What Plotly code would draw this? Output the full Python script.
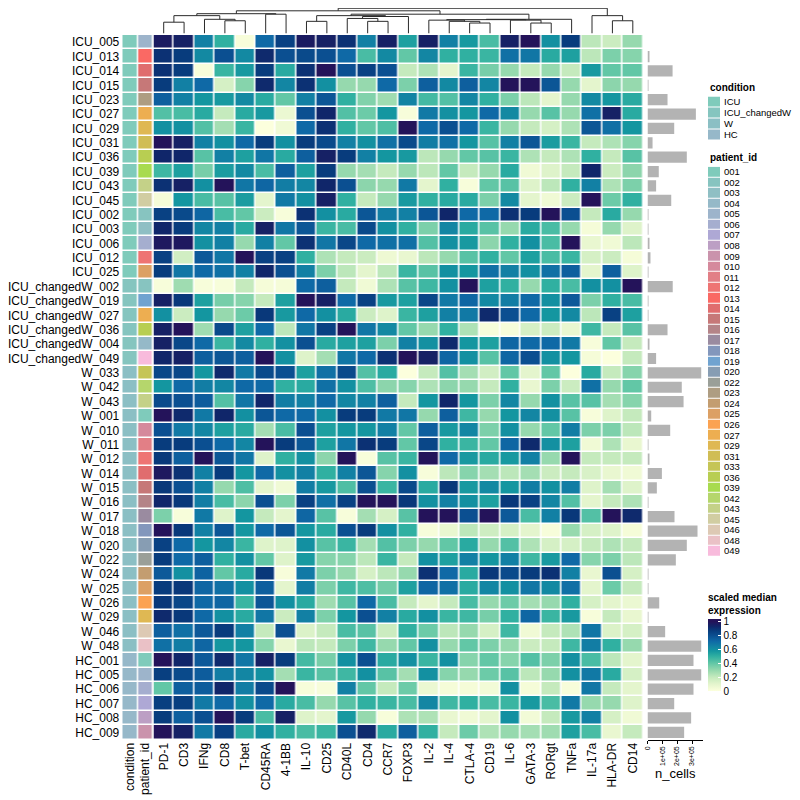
import plotly.graph_objects as go

# ---------------- data ----------------
markers = ["PD-1", "CD3", "IFNg", "CD8", "T-bet", "CD45RA", "4-1BB", "IL-10", "CD25", "CD40L",
           "CD4", "CCR7", "FOXP3", "IL-2", "IL-4", "CTLA-4", "CD19", "IL-6", "GATA-3", "RORgt",
           "TNFa", "IL-17a", "HLA-DR", "CD14"]

samples = ["ICU_005", "ICU_013", "ICU_014", "ICU_015", "ICU_023", "ICU_027", "ICU_029", "ICU_031",
           "ICU_036", "ICU_039", "ICU_043", "ICU_045", "ICU_002", "ICU_003", "ICU_006", "ICU_012",
           "ICU_025", "ICU_changedW_002", "ICU_changedW_019", "ICU_changedW_027",
           "ICU_changedW_036", "ICU_changedW_004", "ICU_changedW_049", "W_033", "W_042", "W_043",
           "W_001", "W_010", "W_011", "W_012", "W_014", "W_015", "W_016", "W_017", "W_018",
           "W_020", "W_022", "W_024", "W_025", "W_026", "W_029", "W_046", "W_048", "HC_001",
           "HC_005", "HC_006", "HC_007", "HC_008", "HC_009"]

expr = [
    [0.97, 0.95, 0.65, 0.5, 0.02, 0.72, 0.85, 0.97, 0.95, 0.9, 0.65, 0.95, 0.55, 0.95, 0.65, 0.57, 0.45, 0.95, 1.0, 0.6, 0.87, 0.22, 0.18, 0.3],
    [0.9, 0.87, 0.62, 0.8, 0.62, 0.92, 0.8, 0.82, 0.8, 0.72, 0.45, 0.62, 0.4, 0.63, 0.5, 0.5, 0.48, 0.7, 0.68, 0.52, 0.55, 0.22, 0.35, 0.33],
    [0.9, 0.87, 0.02, 0.48, 0.57, 0.87, 0.52, 0.9, 1.0, 0.8, 0.85, 0.8, 0.2, 0.25, 0.1, 0.48, 0.36, 0.3, 0.2, 0.3, 0.2, 0.57, 0.4, 0.4],
    [0.87, 0.65, 0.72, 0.15, 0.33, 0.92, 0.63, 0.9, 0.6, 0.3, 0.3, 0.72, 0.35, 0.75, 0.62, 0.75, 0.63, 1.0, 1.0, 0.78, 0.3, 0.1, 0.32, 0.3],
    [0.75, 0.65, 0.58, 0.57, 0.62, 0.52, 0.4, 0.65, 0.78, 0.5, 0.34, 0.28, 0.64, 0.46, 0.43, 0.63, 0.5, 0.35, 0.22, 0.1, 0.3, 0.62, 0.58, 0.52],
    [0.43, 0.45, 0.52, 0.2, 0.52, 0.57, 0.07, 0.8, 0.93, 0.43, 0.38, 0.58, 0.02, 0.67, 0.6, 0.58, 0.72, 0.62, 0.3, 0.42, 0.3, 0.7, 0.95, 0.52],
    [0.6, 0.6, 0.43, 0.27, 0.48, 0.0, 0.05, 0.72, 0.9, 0.5, 0.4, 0.44, 1.0, 0.72, 0.8, 0.72, 0.48, 0.3, 0.2, 0.15, 0.25, 0.78, 0.7, 0.58],
    [1.0, 0.95, 0.65, 0.6, 0.72, 0.87, 0.6, 0.87, 0.82, 0.65, 0.6, 0.7, 0.82, 0.66, 0.7, 0.58, 0.42, 0.65, 0.78, 0.56, 0.48, 0.2, 0.25, 0.33],
    [0.93, 0.93, 0.42, 0.65, 0.55, 0.68, 0.52, 0.75, 0.95, 0.87, 0.65, 0.58, 0.57, 0.22, 0.3, 0.4, 0.42, 0.48, 0.25, 0.2, 0.25, 0.5, 0.2, 0.42],
    [0.47, 0.55, 0.36, 0.56, 0.62, 0.45, 0.75, 0.55, 0.87, 0.3, 0.27, 0.2, 0.3, 0.22, 0.4, 0.2, 0.3, 0.52, 0.05, 0.12, 0.2, 0.93, 0.18, 0.32],
    [0.9, 0.95, 0.6, 1.0, 0.68, 0.73, 0.66, 0.63, 0.93, 0.8, 0.32, 0.3, 0.67, 0.1, 0.5, 0.02, 0.4, 0.42, 0.12, 0.22, 0.5, 0.65, 0.25, 0.35],
    [0.03, 0.58, 0.45, 0.42, 0.56, 0.1, 0.67, 0.6, 0.95, 0.5, 0.2, 0.3, 0.57, 0.5, 0.52, 0.52, 0.35, 0.62, 0.1, 0.05, 0.18, 1.0, 0.38, 0.5],
    [0.85, 0.82, 0.73, 0.45, 0.4, 0.18, 0.02, 0.9, 0.6, 0.52, 0.78, 0.66, 0.65, 0.78, 0.93, 0.72, 0.72, 0.9, 0.87, 1.0, 0.8, 0.2, 0.52, 0.3],
    [0.93, 0.87, 0.63, 0.65, 0.52, 0.95, 0.68, 0.78, 0.48, 0.45, 0.82, 0.6, 0.5, 0.35, 0.63, 0.52, 0.42, 0.3, 0.52, 0.45, 0.3, 0.03, 0.3, 0.12],
    [0.98, 0.98, 0.6, 0.65, 0.3, 0.65, 0.4, 0.9, 0.68, 0.83, 0.72, 0.7, 0.7, 0.43, 0.6, 0.57, 0.32, 0.5, 0.6, 0.45, 1.0, 0.08, 0.05, 0.22],
    [0.85, 0.16, 0.77, 0.68, 1.0, 0.85, 0.85, 0.5, 0.25, 0.2, 0.18, 0.06, 0.08, 0.22, 0.3, 0.42, 0.5, 0.4, 0.55, 0.45, 0.48, 0.15, 0.18, 0.03],
    [0.87, 0.68, 0.72, 0.7, 0.65, 0.93, 0.8, 0.65, 0.35, 0.22, 0.1, 0.22, 0.48, 0.42, 0.6, 0.58, 0.7, 0.65, 0.6, 0.7, 0.75, 0.1, 0.75, 0.12],
    [0.02, 0.28, 0.02, 0.02, 0.2, 0.03, 0.03, 0.72, 0.75, 0.2, 0.05, 0.25, 0.42, 0.47, 0.6, 1.0, 0.55, 0.5, 0.3, 0.5, 0.45, 0.6, 0.6, 1.0],
    [0.95, 0.88, 0.55, 0.36, 0.33, 0.2, 0.55, 1.0, 0.95, 0.72, 0.85, 0.57, 0.55, 0.83, 0.67, 0.73, 0.62, 0.66, 0.72, 0.6, 0.77, 0.35, 0.5, 0.45],
    [0.6, 0.18, 0.58, 0.3, 0.38, 0.88, 0.57, 0.72, 0.6, 0.52, 0.18, 0.12, 0.48, 0.55, 0.65, 0.67, 0.92, 0.8, 0.72, 0.58, 0.62, 0.22, 0.85, 0.55],
    [0.95, 1.0, 0.28, 0.82, 0.55, 0.72, 0.22, 0.68, 0.85, 1.0, 0.68, 0.62, 0.4, 0.3, 0.5, 0.25, 0.02, 0.02, 0.15, 0.18, 0.08, 0.47, 0.2, 0.42],
    [0.95, 0.83, 0.72, 0.48, 0.62, 0.5, 0.6, 0.8, 0.52, 0.55, 0.55, 0.35, 0.65, 0.6, 0.92, 0.58, 0.55, 0.73, 0.72, 0.72, 0.67, 0.02, 0.4, 0.2],
    [0.93, 0.95, 0.75, 0.78, 0.75, 1.0, 0.6, 0.12, 0.27, 0.68, 0.72, 0.9, 1.0, 0.95, 0.73, 0.6, 0.42, 0.73, 0.8, 0.6, 0.58, 0.03, 0.0, 0.2],
    [0.83, 0.83, 0.58, 0.92, 0.67, 0.82, 0.8, 0.55, 0.7, 0.82, 0.43, 0.52, 0.0, 0.2, 0.43, 0.27, 0.16, 0.4, 0.1, 0.4, 0.0, 0.52, 0.2, 0.33],
    [0.58, 0.72, 0.66, 0.63, 0.72, 0.72, 0.5, 0.52, 0.7, 0.6, 0.44, 0.32, 0.33, 0.25, 0.32, 0.3, 0.2, 0.5, 0.08, 0.35, 0.18, 0.7, 0.3, 0.4],
    [0.82, 0.8, 0.76, 0.43, 0.68, 0.93, 0.66, 0.65, 0.72, 0.63, 0.65, 0.75, 0.2, 0.58, 0.93, 0.58, 0.35, 0.63, 0.3, 0.6, 0.42, 0.42, 0.27, 0.33],
    [1.0, 0.92, 0.67, 0.93, 0.6, 0.78, 0.72, 0.72, 0.6, 0.87, 0.87, 0.67, 0.68, 0.3, 0.75, 0.47, 0.3, 0.58, 0.63, 0.6, 0.42, 0.02, 0.12, 0.2],
    [0.8, 0.67, 0.63, 0.55, 0.52, 0.27, 0.45, 0.8, 0.55, 0.58, 0.58, 0.65, 0.4, 0.75, 0.57, 0.63, 0.35, 0.6, 0.3, 0.4, 0.66, 0.35, 0.35, 0.22],
    [0.87, 0.87, 0.8, 0.72, 0.63, 1.0, 0.87, 0.78, 0.55, 0.68, 0.9, 0.87, 0.4, 0.83, 0.5, 0.48, 0.4, 0.73, 0.92, 0.6, 0.55, 0.05, 0.25, 0.08],
    [0.88, 0.75, 1.0, 0.78, 0.68, 0.12, 0.5, 0.6, 0.32, 1.0, 0.02, 0.42, 0.48, 1.0, 0.72, 0.57, 0.52, 0.57, 0.65, 0.3, 1.0, 0.2, 0.2, 0.2],
    [0.98, 0.9, 0.65, 0.87, 0.58, 0.72, 0.6, 0.65, 0.5, 0.65, 0.78, 0.33, 0.6, 0.02, 0.22, 0.33, 0.27, 0.22, 0.27, 0.18, 0.2, 0.14, 0.08, 0.05],
    [0.88, 0.8, 0.65, 0.3, 0.44, 0.1, 0.05, 0.66, 0.57, 0.44, 0.8, 0.48, 0.82, 0.52, 0.88, 0.57, 0.62, 0.58, 0.66, 0.6, 0.66, 0.12, 0.27, 0.12],
    [0.93, 0.88, 0.66, 0.45, 0.32, 0.8, 0.35, 0.85, 0.7, 0.85, 1.0, 1.0, 0.88, 0.6, 0.65, 0.6, 0.55, 0.88, 0.85, 0.63, 0.43, 0.1, 0.2, 0.25],
    [0.35, 0.02, 0.67, 0.12, 0.58, 0.2, 0.1, 0.73, 0.42, 0.02, 0.27, 0.15, 0.42, 1.0, 1.0, 0.8, 1.0, 0.77, 0.45, 0.65, 0.88, 0.43, 1.0, 0.92],
    [1.0, 0.88, 0.65, 0.78, 0.58, 0.72, 0.78, 0.58, 0.52, 0.8, 0.87, 0.6, 0.5, 0.02, 0.08, 0.22, 0.17, 0.15, 0.1, 0.02, 0.3, 0.15, 0.12, 0.03],
    [0.85, 0.72, 0.58, 0.63, 0.48, 0.12, 0.12, 0.6, 0.42, 0.48, 0.27, 0.43, 0.35, 0.3, 0.4, 0.52, 0.3, 0.43, 0.25, 0.15, 0.15, 0.2, 0.25, 0.2],
    [0.87, 0.72, 0.75, 0.5, 0.6, 0.4, 0.12, 0.57, 0.33, 0.33, 0.22, 0.48, 0.2, 0.6, 0.55, 0.65, 0.58, 0.65, 0.47, 0.57, 0.72, 0.33, 0.35, 0.22],
    [0.77, 0.6, 0.74, 0.4, 0.52, 0.88, 0.02, 0.67, 0.35, 0.3, 0.15, 0.22, 0.3, 0.9, 0.72, 0.52, 0.88, 0.82, 0.87, 0.9, 0.65, 0.08, 0.8, 0.15],
    [0.87, 0.88, 0.73, 0.7, 0.6, 0.75, 0.1, 0.66, 0.35, 0.47, 0.44, 0.37, 0.55, 0.73, 0.7, 0.52, 0.63, 0.6, 0.68, 0.62, 0.7, 0.1, 0.38, 0.2],
    [0.88, 0.83, 0.72, 0.73, 0.48, 0.78, 0.6, 0.52, 0.28, 0.42, 0.72, 0.45, 0.2, 0.1, 0.2, 0.45, 0.3, 0.38, 0.27, 0.3, 0.5, 0.15, 0.1, 0.07],
    [0.92, 0.88, 0.72, 0.6, 0.52, 0.68, 0.18, 0.65, 0.35, 0.58, 0.8, 0.65, 0.52, 0.6, 0.48, 0.47, 0.36, 0.5, 0.73, 0.48, 0.57, 0.02, 0.2, 0.08],
    [0.75, 0.7, 0.77, 0.87, 0.65, 0.2, 0.8, 0.13, 0.2, 0.45, 0.42, 0.18, 0.5, 0.38, 0.22, 0.3, 0.15, 0.47, 0.05, 0.2, 0.25, 0.68, 0.13, 0.15],
    [0.7, 0.66, 0.73, 0.58, 0.58, 0.33, 0.08, 0.22, 0.2, 0.35, 0.47, 0.3, 0.4, 0.6, 0.3, 0.4, 0.35, 0.3, 0.18, 0.2, 0.47, 0.66, 0.5, 0.3],
    [1.0, 0.93, 0.77, 0.92, 0.68, 0.95, 0.87, 0.46, 0.36, 0.6, 0.8, 0.52, 0.6, 0.48, 0.6, 0.33, 0.4, 0.33, 0.43, 0.35, 0.6, 0.45, 0.22, 0.1],
    [0.86, 0.82, 0.76, 0.66, 0.63, 0.6, 0.27, 0.48, 0.42, 0.47, 0.6, 0.42, 0.27, 0.6, 0.33, 0.3, 0.38, 0.42, 0.22, 0.3, 0.6, 0.67, 0.52, 0.15],
    [0.4, 0.75, 0.76, 0.93, 0.66, 0.82, 1.0, 0.02, 0.02, 0.65, 0.4, 0.2, 0.38, 0.07, 0.03, 0.03, 0.04, 0.6, 0.03, 0.2, 0.02, 0.68, 0.2, 0.1],
    [0.86, 0.86, 0.67, 0.72, 0.6, 0.72, 0.52, 0.45, 0.3, 0.42, 0.5, 0.48, 0.45, 0.63, 0.47, 0.5, 0.45, 0.48, 0.57, 0.45, 0.67, 0.3, 0.3, 0.12],
    [0.87, 0.75, 0.8, 1.0, 0.87, 0.45, 0.95, 0.12, 0.1, 0.57, 0.3, 0.02, 0.25, 0.25, 0.08, 0.05, 0.1, 0.6, 0.04, 0.2, 0.57, 0.65, 0.15, 0.05],
    [1.0, 0.95, 0.67, 0.85, 0.52, 0.6, 0.5, 0.45, 0.48, 0.8, 0.92, 0.52, 0.75, 0.5, 0.2, 0.38, 0.25, 0.3, 0.27, 0.28, 0.55, 0.45, 0.08, 0.2],
]

n_cells = [0, 9000, 169000, 6000, 135000, 326000, 180000, 34000, 265000, 76000, 58000, 160000,
           1000, 5000, 7000, 20000, 3000, 170000, 5000, 1000, 135000, 13000, 58000, 362000,
           231000, 243000, 25000, 153000, 5000, 11000, 97000, 63000, 4000, 182000, 337000,
           265000, 191000, 1000, 5000, 79000, 3000, 119000, 362000, 310000, 362000, 310000,
           180000, 294000, 247000]

conditions = ["ICU", "ICU_changedW", "W", "HC"]
condition_colors = ["#7FCBBB", "#85C5BF", "#8BBFC4", "#96B8C9"]

patient_ids = ["001", "002", "003", "004", "005", "006", "007", "008", "009", "010", "011", "012",
               "013", "014", "015", "016", "017", "018", "019", "020", "022", "023", "024", "025",
               "026", "027", "029", "031", "033", "036", "039", "042", "043", "045", "046", "048",
               "049"]
patient_colors = ["#7FCBBB", "#87C4C0", "#8FBFC4", "#95B9C8", "#9DB4CB", "#A5AECF", "#AEA8D5",
                  "#BC9FC4", "#CA93AC", "#D5899C", "#E27F86", "#EE7473", "#FA6964", "#E06D6E",
                  "#C67878", "#B48488", "#9A8BA0", "#8397BC", "#70A3D0", "#879DB3", "#9A9F98",
                  "#AE9D82", "#C39D70", "#DCA064", "#FBA252", "#EDAE51", "#DFB853", "#D0BD55",
                  "#C5C556", "#B8CE52", "#A8DB4F", "#B5D66C", "#C4D188", "#D1CDA2", "#DDC9B4",
                  "#EAC1C6", "#F8BBDC"]

# colour stops given on the 0..1 value scale
expr_stops = [
    [0.00, "#FCFFDD"], [0.10, "#E4F5CD"], [0.20, "#C5EABD"], [0.30, "#96D9AE"],
    [0.40, "#62C7A6"], [0.50, "#30B0A1"], [0.58, "#1496A0"], [0.65, "#1280A4"],
    [0.72, "#0F69A6"], [0.80, "#0B4F91"], [0.87, "#083C7D"], [0.93, "#10266A"],
    [1.00, "#24135A"],
]

# column dendrogram: (left, right, height); "mK" refers to the K-th merge
dendro_merges = [
    ("PD-1", "CD3", 13.3), ("CD8", "T-bet", 15.0), ("IFNg", "m1", 16.7), ("m0", "m2", 21.0),
    ("CD45RA", "4-1BB", 22.7), ("m3", "m4", 23.3), ("IL-10", "CD25", 14.3), ("CD4", "CCR7", 14.3),
    ("CD40L", "m7", 17.7), ("m8", "FOXP3", 20.0), ("m6", "m9", 21.0), ("CTLA-4", "CD19", 12.3),
    ("IL-4", "m11", 14.3), ("IL-2", "m12", 15.7), ("GATA-3", "RORgt", 12.3), ("IL-6", "m14", 15.7),
    ("m13", "m15", 16.3), ("m16", "TNFa", 16.7), ("m10", "m17", 22.7), ("m5", "m18", 26.7),
    ("HLA-DR", "CD14", 15.0), ("IL-17a", "m20", 21.0), ("m19", "m21", 29.7),
]

# ---------------- layout helpers ----------------
W = H = 800.0
OFF = 8.0  # page body margin of the html page


def px_x(a, b):
    return [max(0.0, (a - OFF) / W), min(1.0, (b - OFF) / W)]


def px_y(top, bottom):
    return [max(0.0, 1 - (bottom - OFF) / H), min(1.0, 1 - (top - OFF) / H)]


def pos_x(a):
    return (a - OFF) / W


def pos_y(a):
    return 1 - (a - OFF) / H


FONT = "Liberation Sans, Arial, Helvetica, sans-serif"

# ---------------- derived ----------------
ZMAX = 1.04  # colour bar extends slightly past 1, as in the legend of the original
expr_colorscale = [[p / ZMAX, c] for p, c in expr_stops] + [[1.0, expr_stops[-1][1]]]

all_colors = condition_colors + patient_colors
ncol = len(all_colors)
cat_scale = []
for i, c in enumerate(all_colors):
    cat_scale.append([i / ncol, c])
    cat_scale.append([(i + 1) / ncol, c])

sample_cond = [s.rsplit("_", 1)[0] for s in samples]
sample_pid = [s.rsplit("_", 1)[1] for s in samples]
anno_z = [[conditions.index(c), len(conditions) + patient_ids.index(p)]
          for c, p in zip(sample_cond, sample_pid)]

pos = {m: i for i, m in enumerate(markers)}
hgt = {m: 0.0 for m in markers}
dx, dy = [], []
for k, (a, b, h) in enumerate(dendro_merges):
    xa, xb = pos[a], pos[b]
    dx += [xa, xa, xb, xb, None]
    dy += [hgt[a], h, h, hgt[b], None]
    pos["m%d" % k] = (xa + xb) / 2
    hgt["m%d" % k] = h

HM_DOM = px_y(35.0, 739.5)
HM_X = px_x(153.5, 643)

fig = go.Figure()

# main heatmap
fig.add_trace(go.Heatmap(
    z=expr, x=markers, y=samples, colorscale=expr_colorscale, zmin=0, zmax=ZMAX,
    xgap=1.5, ygap=1.5, xaxis="x", yaxis="y",
    colorbar=dict(
        x=pos_x(708), xanchor="left", y=pos_y(590), yanchor="top",
        len=101, lenmode="pixels", thickness=13, thicknessmode="pixels",
        xpad=0, ypad=0, outlinewidth=0,
        tickvals=[0, 0.2, 0.4, 0.6, 0.8, 1], ticktext=["0", "0.2", "0.4", "0.6", "0.8", "1"],
        ticks="inside", ticklen=3, tickcolor="white",
        tickfont=dict(size=10, family=FONT, color="black"),
        title=dict(text="<b>scaled median<br>expression</b>", side="top",
                   font=dict(size=10, family=FONT, color="black")),
    ),
))

# annotation columns
fig.add_trace(go.Heatmap(
    z=anno_z, x=["condition", "patient_id"], y=samples, colorscale=cat_scale,
    zmin=-0.5, zmax=ncol - 0.5, showscale=False, xgap=1.5, ygap=1.5,
    xaxis="x2", yaxis="y2",
))

# n_cells bars
fig.add_trace(go.Bar(
    x=n_cells, y=samples, orientation="h", marker=dict(color="#B3B3B3", line=dict(width=0)),
    width=0.78, xaxis="x3", yaxis="y3", showlegend=False,
))

# dendrogram
fig.add_trace(go.Scatter(
    x=dx, y=dy, mode="lines", line=dict(color="#2b2b2b", width=1),
    xaxis="x4", yaxis="y4", showlegend=False, hoverinfo="skip",
))

# legend: condition
fig.add_trace(go.Heatmap(
    z=[[i] for i in range(len(conditions))], x=["c"], y=conditions, colorscale=cat_scale,
    zmin=-0.5, zmax=ncol - 0.5, showscale=False, ygap=1, xaxis="x5", yaxis="y5",
))
# legend: patient_id
fig.add_trace(go.Heatmap(
    z=[[len(conditions) + i] for i in range(len(patient_ids))], x=["p"], y=patient_ids,
    colorscale=cat_scale, zmin=-0.5, zmax=ncol - 0.5, showscale=False, ygap=1,
    xaxis="x6", yaxis="y6",
))

hidden = dict(showgrid=False, zeroline=False, showticklabels=False, ticks="", showline=False)
tick12 = dict(size=12, family=FONT, color="black")
tick10 = dict(size=10, family=FONT, color="black")
legfont = dict(size=9.5, family=FONT, color="black")

fig.update_layout(
    width=800, height=800, margin=dict(l=0, r=0, t=0, b=0, autoexpand=False),
    paper_bgcolor="white", plot_bgcolor="white", showlegend=False,
    font=dict(family=FONT, color="black"),
    xaxis=dict(domain=HM_X, anchor="y", tickangle=-90, tickfont=tick12,
               showgrid=False, zeroline=False, ticks="", showline=False),
    yaxis=dict(domain=HM_DOM, anchor="x", autorange="reversed", **hidden),
    xaxis2=dict(domain=px_x(122.3, 153.3), anchor="y2", tickangle=-90, tickfont=tick12,
                showgrid=False, zeroline=False, ticks="", showline=False),
    yaxis2=dict(domain=HM_DOM, anchor="x2", autorange="reversed", tickfont=tick12,
                tickmode="array", tickvals=samples, ticktext=samples,
                showgrid=False, zeroline=False, ticks="", showline=False, ticklabelstandoff=2),
    xaxis3=dict(domain=px_x(647.5, 703.0), anchor="y3", range=[0, 374000],
                tickvals=[0, 100000, 200000, 300000], ticktext=["0", "1e+05", "2e+05", "3e+05"],
                tickangle=-90, tickfont=dict(size=7, family=FONT, color="black"),
                ticks="outside", ticklen=3, tickcolor="black", showline=True, linecolor="black",
                linewidth=1, showgrid=False, zeroline=False,
                title=dict(text="n_cells", font=dict(size=13, family=FONT, color="black"), standoff=2)),
    yaxis3=dict(domain=HM_DOM, anchor="x3", autorange="reversed", **hidden),
    xaxis4=dict(domain=HM_X, anchor="y4", range=[-0.5, len(markers) - 0.5], **hidden),
    yaxis4=dict(domain=px_y(8, 33.5), anchor="x4", range=[0, 30], **hidden),
    xaxis5=dict(domain=px_x(708, 720), anchor="y5", **hidden),
    yaxis5=dict(domain=px_y(96.5, 140.5), anchor="x5", autorange="reversed", side="right",
                tickmode="array", tickvals=conditions, ticktext=conditions,
                tickfont=legfont, showgrid=False,
                zeroline=False, ticks="", showline=False, ticklabelstandoff=3),
    xaxis6=dict(domain=px_x(708, 720), anchor="y6", **hidden),
    yaxis6=dict(domain=px_y(166.7, 556.3), anchor="x6", autorange="reversed", side="right",
                tickmode="array", tickvals=patient_ids, ticktext=patient_ids,
                tickfont=legfont, showgrid=False,
                zeroline=False, ticks="", showline=False, ticklabelstandoff=3),
    annotations=[
        dict(text="<b>condition</b>", x=pos_x(708), y=pos_y(87), xref="paper", yref="paper",
             xanchor="left", yanchor="middle", showarrow=False, font=tick10),
        dict(text="<b>patient_id</b>", x=pos_x(708), y=pos_y(157), xref="paper", yref="paper",
             xanchor="left", yanchor="middle", showarrow=False, font=tick10),
    ],
)

fig.write_html("out.html")
